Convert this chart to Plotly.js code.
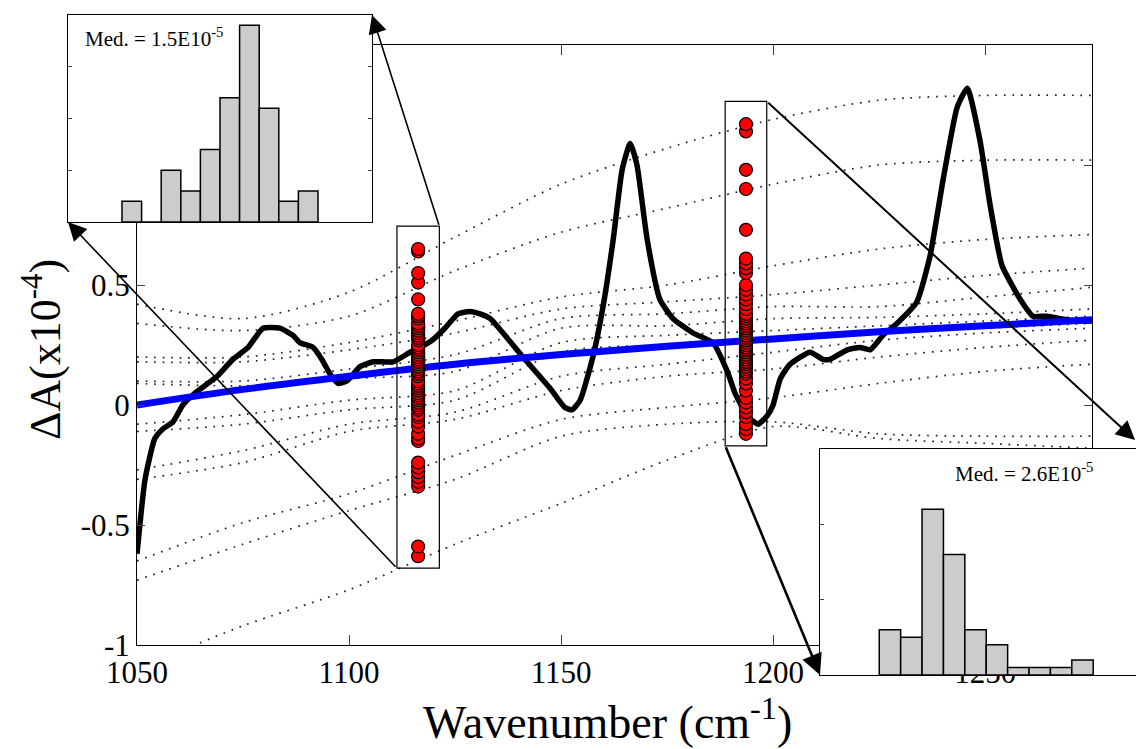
<!DOCTYPE html>
<html><head><meta charset="utf-8">
<script src="https://cdn.plot.ly/plotly-3.0.1.min.js"></script>
<style>html,body{margin:0;padding:0;background:#fff}#chart{width:1136px;height:749px}</style>
</head><body><div id="chart"></div>
<script>
// ---- spectrum (black) ----
const specX = [1050.0,1051.9,1054.2,1056.1,1058.5,1060.8,1063.7,1068.9,1072.6,1076.2,1079.7,1083.7,1086.8,1088.4,1091.5,1093.6,1095.5,1097.4,1099.5,1102.6,1105.7,1110.4,1114.4,1116.7,1119.6,1122.6,1125.7,1128.5,1130.9,1133.3,1141.0,1147.4,1150.9,1152.6,1154.5,1157.5,1159.9,1162.3,1164.4,1166.3,1167.9,1170.3,1173.3,1176.4,1181.1,1185.8,1189.2,1191.0,1194.1,1196.5,1198.8,1200.0,1201.7,1204.0,1208.7,1211.8,1213.4,1217.5,1220.5,1222.9,1225.9,1229.2,1233.9,1237.0,1240.1,1243.4,1245.8,1248.8,1251.2,1254.0,1258.3,1261.3,1264.6,1267.7,1271.2,1275.2];
const specY = [-0.62,-0.31,-0.14,-0.10,-0.07,0.00,0.05,0.12,0.19,0.24,0.32,0.32,0.29,0.26,0.24,0.19,0.13,0.09,0.10,0.16,0.18,0.18,0.22,0.24,0.27,0.32,0.38,0.39,0.38,0.36,0.20,0.07,-0.01,-0.02,0.02,0.20,0.41,0.69,0.98,1.09,1.00,0.69,0.44,0.36,0.30,0.26,0.14,0.05,-0.05,-0.08,-0.04,0.00,0.11,0.17,0.22,0.19,0.19,0.23,0.24,0.23,0.29,0.34,0.43,0.62,0.94,1.24,1.32,1.10,0.83,0.58,0.44,0.37,0.37,0.36,0.35,0.35];
// ---- fitted curve (blue) ----
const fitX = [1050,1075,1100,1125,1150,1175,1200,1225,1250,1275.2];
const fitY = [0.00,0.065,0.12,0.17,0.21,0.245,0.275,0.305,0.33,0.355];
// ---- dotted baselines ----
const baseX = [1050,1075,1100,1125,1150,1175,1200,1225,1250,1275];
const base01 = [0.42,0.36,0.47,0.70,0.92,1.07,1.19,1.27,1.29,1.29];
const base02 = [0.34,0.31,0.37,0.56,0.72,0.82,0.92,1.00,1.02,1.02];
const base03 = [0.20,0.20,0.26,0.35,0.45,0.50,0.58,0.65,0.69,0.71];
const base04 = [0.18,0.18,0.23,0.30,0.40,0.43,0.46,0.50,0.54,0.57];
const base05 = [0.10,0.10,0.15,0.21,0.36,0.38,0.41,0.41,0.45,0.49];
const base06 = [0.09,0.08,0.11,0.14,0.32,0.33,0.36,0.365,0.38,0.40];
const base07 = [-0.08,-0.04,0.02,0.06,0.26,0.29,0.31,0.33,0.35,0.37];
const base08 = [-0.11,-0.08,-0.02,0.02,0.22,0.25,0.27,0.30,0.32,0.34];
const base09 = [-0.27,-0.19,-0.08,-0.03,0.12,0.17,0.22,0.27,0.30,0.32];
const base10 = [-0.31,-0.24,-0.11,-0.06,0.06,0.12,0.15,0.20,0.24,0.27];
const base11 = [-0.65,-0.49,-0.37,-0.21,-0.06,-0.01,0.03,0.09,0.14,0.17];
const base12 = [-0.73,-0.58,-0.44,-0.31,-0.13,-0.08,-0.07,-0.12,-0.13,-0.13];
const base13 = [-1.10,-0.92,-0.77,-0.58,-0.41,-0.23,-0.09,-0.14,-0.16,-0.18];
// ---- sampled values at two wavenumbers (red) ----
const col1X = 1116.3;
const col1Vals = [-0.63,-0.59,-0.34,-0.32,-0.30,-0.28,-0.26,-0.24,-0.15,-0.14,-0.12,-0.09,-0.07,-0.05,-0.04,-0.02,-0.01,
  0.00,0.01,0.02,0.03,0.04,0.05,0.06,0.07,0.08,0.09,0.10,0.12,
  0.13,0.14,0.14,0.15,0.15,0.16,0.16,0.17,0.18,0.18,0.19,0.20,0.20,0.21,0.22,0.23,0.24,0.24,0.25,
  0.27,0.28,0.29,0.30,0.31,0.32,0.33,0.34,0.36,0.37,0.38,0.44,0.51,0.55,0.64,0.65];
const col2X = 1193.6;
const col2Vals = [-0.12,-0.10,-0.08,-0.05,-0.03,-0.01,0.01,0.03,0.06,0.09,0.11,
  0.13,0.14,0.15,0.16,0.16,0.17,0.18,0.18,0.19,0.20,0.20,0.21,0.21,0.22,0.22,0.23,0.23,0.24,0.24,0.25,0.25,0.25,
  0.26,0.27,0.27,0.28,0.29,0.29,0.30,0.31,0.32,0.32,0.33,0.34,0.35,0.36,0.37,0.38,
  0.40,0.42,0.44,0.46,0.48,0.50,0.55,0.57,0.59,0.61,0.73,0.90,0.98,1.14,1.17];
// ---- histograms ----
const hist1Centers = [-0.585,-0.455,-0.325,-0.195,-0.065,0.065,0.195,0.325,0.455,0.585];
const hist1Counts  = [2,0,5,3,7,12,19,11,2,3];
const hist2Centers = [-0.065,0.065,0.195,0.325,0.455,0.585,0.715,0.845,0.975,1.105];
const hist2Counts  = [6,5,22,16,6,4,1,1,1,2];
const binWidth = 0.13;
const med1Text = 'Med. = 1.5E10<sup>-5</sup>';
const med2Text = 'Med. = 2.6E10<sup>-5</sup>';
const xTickVals = [1050,1100,1150,1200,1250];
const yTickVals = [-1,-0.5,0,0.5,1,1.5];

// ---- geometry ----
const W = 1136, H = 749;
const xDom = [137/W, 1092/W], yDom = [1-645/H, 1-45/H];
const xR = [1050, 1275.2], yR = [-1, 1.5];
const in1X = [68/W, 372/W], in1Y = [1-222/H, 1-15/H];
const in2X = [820/W, 1], in2Y = [1-675/H, 1-449/H];
const FONT = 'Liberation Serif, Times New Roman, serif';

function xPx(v){ return W*(xDom[0] + (v-xR[0])/(xR[1]-xR[0])*(xDom[1]-xDom[0])); }
function yPx(v){ return H*(1 - (yDom[0] + (v-yR[0])/(yR[1]-yR[0])*(yDom[1]-yDom[0]))); }

const traces = [];
const bases = [base01,base02,base03,base04,base05,base06,base07,base08,base09,base10,base11,base12,base13];
bases.forEach(b => traces.push({x: baseX, y: b, mode:'lines', xaxis:'x', yaxis:'y',
  line:{color:'#222', width:1.7, dash:'1.7px,6.8px', shape:'spline', smoothing:0.8}, hoverinfo:'skip'}));
traces.push({x: specX, y: specY, mode:'lines', line:{color:'#000', width:5.5, shape:'spline', smoothing:0.5}});
traces.push({x: fitX, y: fitY, mode:'lines', line:{color:'#0000ff', width:7, shape:'spline'}});
traces.push({x: col1Vals.map(()=>col1X), y: col1Vals, mode:'markers',
  marker:{color:'#ff0000', size:13, line:{color:'#000', width:1.2}}});
traces.push({x: col2Vals.map(()=>col2X), y: col2Vals, mode:'markers',
  marker:{color:'#ff0000', size:13, line:{color:'#000', width:1.2}}});
traces.push({type:'bar', x: hist1Centers, y: hist1Counts, width: binWidth, xaxis:'x2', yaxis:'y2',
  marker:{color:'#cccccc', line:{color:'#000', width:1.5}}});
traces.push({type:'bar', x: hist2Centers, y: hist2Counts, width: binWidth, xaxis:'x3', yaxis:'y3',
  marker:{color:'#cccccc', line:{color:'#000', width:1.5}}});

function colBox(cx, vals, half){
  const lo = Math.min(...vals) - 0.05, hi = Math.max(...vals) + 0.095;
  return {x0: cx-half, x1: cx+half, y0: lo, y1: hi};
}
const b1 = colBox(col1X, col1Vals, 5.0);
const b2 = colBox(col2X, col2Vals, 4.9);
const shapes = [b1, b2].map(b => ({type:'rect', xref:'x', yref:'y', x0:b.x0, x1:b.x1, y0:b.y0, y1:b.y1,
  line:{color:'#000', width:1.2}, fillcolor:'rgba(0,0,0,0)', layer:'above'}));

function arrow(tailX, tailY, headPaperX, headPaperY, w, size){
  const hx = headPaperX*W, hy = (1-headPaperY)*H;
  return {xref:'paper', yref:'paper', x: headPaperX, y: headPaperY, text:'', showarrow:true,
    ax: xPx(tailX)-hx, ay: yPx(tailY)-hy, axref:'pixel', ayref:'pixel',
    arrowhead:2, arrowsize:size, arrowwidth:w, arrowcolor:'#000', standoff:0, startstandoff:0};
}
const annotations = [
  arrow(b1.x1, b1.y1, in1X[1], in1Y[1], 1.6, 2.3),
  arrow(b1.x0, b1.y0, in1X[0], in1Y[0], 1.6, 2.3),
  arrow(b2.x1, b2.y1, 1.0, 1-440/H, 2.0, 1.9),
  arrow(b2.x0, b2.y0, in2X[0], in2Y[0], 2.6, 1.6),
  {xref:'paper', yref:'paper', x: 83/W, y: 1-38/H, xanchor:'left', yanchor:'middle', showarrow:false,
   text: med1Text, font:{family:FONT, size:21, color:'#000'}},
  {xref:'paper', yref:'paper', x: 953/W, y: 1-472/H, xanchor:'left', yanchor:'middle', showarrow:false,
   text: med2Text, font:{family:FONT, size:21, color:'#000'}},
  {xref:'paper', yref:'paper', x: 607/W, y: 1-719/H, xanchor:'center', yanchor:'middle', showarrow:false,
   text:'Wavenumber (cm<sup>-1</sup>)', font:{family:FONT, size:46, color:'#000'}},
  {xref:'paper', yref:'paper', x: 42/W, y: 1-350/H, xanchor:'center', yanchor:'middle', showarrow:false,
   textangle:-90, text:'ΔA(x10<sup>-4</sup>)', font:{family:FONT, size:44, color:'#000'}}
];

const axBase = {showgrid:false, zeroline:false, showline:true, linecolor:'#000', linewidth:1, automargin:false, fixedrange:true};
const layout = {
  width: W, height: H, margin:{l:0, r:0, t:0, b:0}, paper_bgcolor:'#fff', plot_bgcolor:'#fff',
  showlegend:false, hovermode:false, bargap:0,
  font:{family:FONT, color:'#000'},
  xaxis: Object.assign({}, axBase, {domain:xDom, range:xR, mirror:'ticks', ticks:'inside', ticklen:10,
    tickvals:xTickVals, ticktext:xTickVals.map(String), tickfont:{family:FONT, size:31, color:'#000'}}),
  yaxis: Object.assign({}, axBase, {domain:yDom, range:yR, mirror:'ticks', ticks:'inside', ticklen:8,
    tickvals:yTickVals, ticktext:yTickVals.map(String), tickfont:{family:FONT, size:31, color:'#000'}}),
  xaxis2: Object.assign({}, axBase, {domain:in1X, range:[-1.008,1.008], mirror:true, ticks:'', showticklabels:false, anchor:'y2'}),
  yaxis2: Object.assign({}, axBase, {domain:in1Y, range:[0,20], mirror:'ticks', ticks:'inside', ticklen:4,
    tickvals:[5,10,15], showticklabels:false, anchor:'x2'}),
  xaxis3: Object.assign({}, axBase, {domain:in2X, range:[-0.49,1.43], mirror:true, ticks:'', showticklabels:false, anchor:'y3'}),
  yaxis3: Object.assign({}, axBase, {domain:in2Y, range:[0,30], mirror:false, ticks:'inside', ticklen:4,
    tickvals:[10,20], showticklabels:false, anchor:'x3'}),
  shapes: shapes,
  annotations: annotations
};
Plotly.newPlot('chart', traces, layout, {staticPlot:true, displayModeBar:false});
</script></body></html>
